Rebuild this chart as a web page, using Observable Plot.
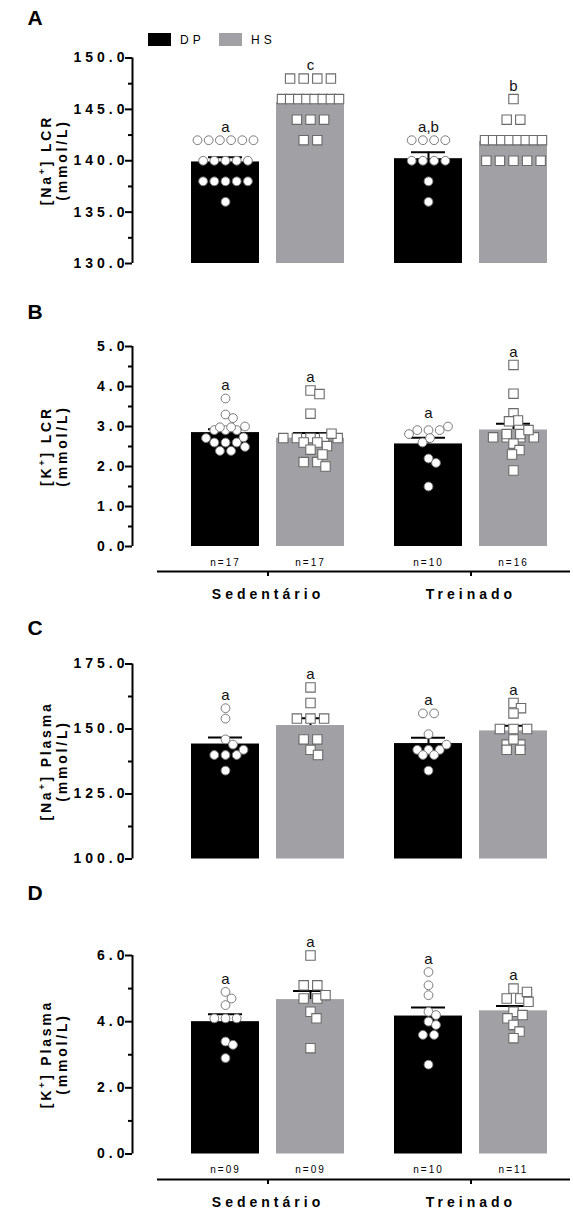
<!DOCTYPE html>
<html><head><meta charset="utf-8">
<script src="https://cdn.jsdelivr.net/npm/d3@7"></script>
<script src="https://cdn.jsdelivr.net/npm/@observablehq/plot@0.6"></script>
<style>
body{margin:0;background:#fff;font-family:"Liberation Sans",Arial,sans-serif;}
#root{position:relative;width:573px;height:1211px;overflow:hidden;}
.panel{position:absolute;left:0;}
.letter{position:absolute;font-weight:bold;font-size:21px;transform:translate(-50%,-50%);}
.ytitle{position:absolute;font-weight:bold;font-size:14px;letter-spacing:2.8px;line-height:16px;text-align:center;white-space:nowrap;transform:translate(-50%,-50%) rotate(-90deg);}
.ytitle sup{font-size:9px;line-height:0;}
.sw{position:absolute;width:23px;height:13px;}
.lg{position:absolute;font-size:12px;letter-spacing:4px;transform:translateY(-50%);}
</style></head><body><div id="root"></div>
<script>
// ---------------- data ----------------
const groups = ["Sedentário", "Treinado"];
const diets = ["DP", "HS"];

// A: [Na+] LCR (mmol/L)
const naLCR_Sed_DP = [142,142,142,142,142,142,140,140,140,140,140,138,138,138,138,138,136];
const naLCR_Sed_HS = [148,148,148,148,146,146,146,146,146,146,146,146,144,144,144,142,142];
const naLCR_Tre_DP = [142,142,142,142,140,140,140,140,138,136];
const naLCR_Tre_HS = [146,144,144,142,142,142,142,142,142,142,142,140,140,140,140,140];
const naLCR_letters = ["a", "c", "a,b", "b"];
const naLCR_ticks = [130, 135, 140, 145, 150];

// B: [K+] LCR (mmol/L)
const kLCR_Sed_DP = [3.70,3.30,3.21,3.00,2.98,2.98,2.91,2.91,2.91,2.73,2.71,2.60,2.60,2.60,2.49,2.39,2.39];
const kLCR_Sed_HS = [3.90,3.81,3.32,2.82,2.71,2.71,2.71,2.71,2.71,2.60,2.60,2.51,2.42,2.30,2.11,2.11,2.00];
const kLCR_Tre_DP = [3.00,2.91,2.91,2.91,2.81,2.71,2.60,2.20,2.09,1.50];
const kLCR_Tre_HS = [4.54,3.82,3.33,3.15,3.13,2.91,2.81,2.81,2.73,2.73,2.73,2.73,2.57,2.41,2.30,1.90];
const kLCR_letters = ["a", "a", "a", "a"];
const kLCR_n = ["n=17", "n=17", "n=10", "n=16"];
const kLCR_ticks = [0, 1, 2, 3, 4, 5];

// C: [Na+] Plasma (mmol/L)
const naPl_Sed_DP = [158,154,146,144,142,140,140,140,134];
const naPl_Sed_HS = [166,160,154,154,154,146,146,142,140];
const naPl_Tre_DP = [156,156,148,144,142,142,142,140,140,134];
const naPl_Tre_HS = [160,158,156,150,150,150,146,144,144,142,142];
const naPl_letters = ["a", "a", "a", "a"];
const naPl_ticks = [100, 125, 150, 175];

// D: [K+] Plasma (mmol/L)
const kPl_Sed_DP = [4.9,4.7,4.5,4.1,4.1,4.1,3.4,3.3,2.9];
const kPl_Sed_HS = [6.0,5.1,5.1,4.8,4.7,4.7,4.3,4.1,3.2];
const kPl_Tre_DP = [5.5,5.1,4.8,4.3,4.2,4.0,3.9,3.6,3.6,2.7];
const kPl_Tre_HS = [5.0,4.9,4.7,4.7,4.6,4.3,4.2,4.1,3.9,3.7,3.5];
const kPl_letters = ["a", "a", "a", "a"];
const kPl_n = ["n=09", "n=09", "n=10", "n=11"];
const kPl_ticks = [0, 2, 4, 6];

// ---------------- layout ----------------
const W = 573, ML = 132, MR = 3;
const FW = W - ML - MR;            // frame width in px (x scale: 1 unit = 1 px)
const groupCenter = [135.5, 338.5];
const dietShift = [-42.5, 42.5];
const barHalf = 34, capHalf = 17;
const fontFam = "Liberation Sans, Arial, sans-serif";
const colors = ["#000000", "#a0a0a5"];

// Prism-like scatter: equal values in centred rows, other points nudged sideways
function swarm(values, py, shape) {
  const size = shape === "circle" ? 9 : 9.4;
  const nominal = shape === "circle" ? 11.2 : 13.6;
  const maxSpan = 57, minDist = size * 0.9, maxOff = 28;
  const gv = d3.groups(values, v => v)
    .sort((a, b) => d3.descending(a[1].length, b[1].length) || d3.descending(a[0], b[0]));
  const placed = [], out = [];
  for (const [v, arr] of gv) {
    const k = arr.length, y = py(v);
    let xs;
    if (k > 1) {
      const sp = Math.min(nominal, maxSpan / (k - 1));
      xs = d3.range(k).map(i => (i - (k - 1) / 2) * sp);
    } else {
      let best = 0, bestD = -1;
      for (let j = 0; j < 60; j++) {
        const s = (j % 2 ? 1 : -1) * Math.ceil(j / 2) * 1.5;
        if (Math.abs(s) > maxOff) break;
        const dmin = placed.length ? d3.min(placed, p => Math.hypot(p.x - s, p.y - y)) : Infinity;
        if (dmin >= minDist) { best = s; bestD = dmin; break; }
        if (dmin > bestD) { bestD = dmin; best = s; }
      }
      xs = [best];
    }
    xs.forEach(x => { placed.push({x, y}); out.push({v, off: x}); });
  }
  return out;
}

function spaceText(svg) {
  svg.querySelectorAll("text").forEach(t => {
    const s = t.textContent;
    let ls = null;
    if (/^\d+\.\d$/.test(s)) ls = "4px";
    else if (groups.includes(s)) ls = "4px";
    else if (/^n=/.test(s)) ls = "2px";
    if (ls) { t.setAttribute("letter-spacing", ls); t.style.letterSpacing = ls; }
  });
}

function panel(cfg) {
  const {top, height, yDomain, yBottom, yTop, axisPx, series, letters, nLabels, ticks, minor} = cfg;
  const frameBottom = axisPx != null ? axisPx : yBottom;
  const ys = d3.scaleLinear(yDomain, [yBottom, yTop]);
  const rows = [], circles = [], squares = [];
  series.forEach((vals, i) => {
    const g = Math.floor(i / 2), d = i % 2;
    const c = groupCenter[g] + dietShift[d];
    const mean = d3.mean(vals);
    const sem = d3.deviation(vals) / Math.sqrt(vals.length);
    rows.push({group: groups[g], diet: diets[d], c, mean, sem, max: d3.max(vals),
               letter: letters[i], n: nLabels ? nLabels[i] : ""});
    const shape = d === 0 ? "circle" : "square";
    swarm(vals, ys, shape).forEach(p => (shape === "circle" ? circles : squares).push({x: c + p.off, y: p.v}));
  });
  const marks = [
    Plot.rectY(rows, {x1: d => d.c - barHalf, x2: d => d.c + barHalf, y1: yDomain[0], y2: "mean", fill: "diet"}),
    Plot.ruleX(rows, {x: "c", y1: "mean", y2: d => d.mean + d.sem, stroke: "#000", strokeWidth: 2}),
    Plot.ruleY(rows, {y: d => d.mean + d.sem, x1: d => d.c - capHalf, x2: d => d.c + capHalf, stroke: "#000", strokeWidth: 2}),
    Plot.dot(circles, {x: "x", y: "y", r: 4.4, symbol: "circle", fill: "#fff", stroke: "#7a7a7a", strokeWidth: 1}),
    Plot.dot(squares, {x: "x", y: "y", r: 5.3, symbol: "square", fill: "#fff", stroke: "#6a6a6a", strokeWidth: 1.1}),
    Plot.text(rows, {x: "c", y: "max", text: "letter", dy: -13, fontSize: 15, fill: "#111"}),
    // y axis
    Plot.ruleX([0], {y1: yDomain[0], y2: yDomain[1], stroke: "#000", strokeWidth: 2}),
    Plot.ruleY(ticks, {x1: -7, x2: 0, stroke: "#000", strokeWidth: 2}),
    Plot.ruleY(minor, {x1: -4, x2: 0, stroke: "#000", strokeWidth: 2}),
    Plot.text(ticks, {x: 0, y: d => d, text: d => d.toFixed(1), dx: -4, textAnchor: "end",
                      fontSize: 14, fontWeight: "bold"})
  ];
  if (axisPx != null) {
    const yAxis = ys.invert(axisPx), yTick = ys.invert(axisPx + 5);
    marks.push(
      Plot.ruleY([yAxis], {x1: 25, x2: FW, stroke: "#000", strokeWidth: 2}),
      Plot.ruleX(groupCenter, {x: d => d, y1: yAxis, y2: yTick, stroke: "#000", strokeWidth: 2}),
      Plot.text(groups, {x: (d, i) => groupCenter[i], y: yAxis, dy: 23, text: d => d,
                         fontSize: 14, fontWeight: "bold"}),
      Plot.text(rows, {x: "c", y: yDomain[0], dy: 16, text: "n", fontSize: 10})
    );
  }
  const svg = Plot.plot({
    width: W, height, marginLeft: ML, marginRight: MR, marginTop: yTop, marginBottom: height - frameBottom,
    x: {domain: [0, FW], axis: null},
    y: {domain: yDomain, range: [yBottom, yTop], axis: null},
    color: {domain: diets, range: colors},
    style: {fontFamily: fontFam, overflow: "visible", background: "transparent"},
    marks
  });
  spaceText(svg);
  svg.classList.add("panel");
  svg.style.top = top + "px";
  return svg;
}

const root = document.getElementById("root");
root.append(panel({top: 0, height: 290, yDomain: [130, 150], yBottom: 263, yTop: 57.5,
  series: [naLCR_Sed_DP, naLCR_Sed_HS, naLCR_Tre_DP, naLCR_Tre_HS], letters: naLCR_letters,
  ticks: naLCR_ticks, minor: [132.5, 137.5, 142.5, 147.5]}));
root.append(panel({top: 290, height: 320, yDomain: [0, 5], yBottom: 256, yTop: 56, axisPx: 281,
  series: [kLCR_Sed_DP, kLCR_Sed_HS, kLCR_Tre_DP, kLCR_Tre_HS], letters: kLCR_letters, nLabels: kLCR_n,
  ticks: kLCR_ticks, minor: [0.5, 1.5, 2.5, 3.5, 4.5]}));
root.append(panel({top: 610, height: 290, yDomain: [100, 175], yBottom: 248.5, yTop: 53.5,
  series: [naPl_Sed_DP, naPl_Sed_HS, naPl_Tre_DP, naPl_Tre_HS], letters: naPl_letters,
  ticks: naPl_ticks, minor: [112.5, 137.5, 162.5]}));
root.append(panel({top: 900, height: 311, yDomain: [0, 6], yBottom: 253.5, yTop: 55, axisPx: 279,
  series: [kPl_Sed_DP, kPl_Sed_HS, kPl_Tre_DP, kPl_Tre_HS], letters: kPl_letters, nLabels: kPl_n,
  ticks: kPl_ticks, minor: [1, 3, 5]}));

// panel letters and y titles (HTML around the SVGs)
const letterPos = [["A", 18], ["B", 312], ["C", 628], ["D", 893]];
letterPos.forEach(([t, y]) => {
  const el = document.createElement("div"); el.className = "letter"; el.textContent = t;
  el.style.left = "35px"; el.style.top = y + "px"; root.append(el);
});
const titles = [
  ["[Na<sup>+</sup>] LCR", 160],
  ["[K<sup>+</sup>] LCR", 446],
  ["[Na<sup>+</sup>] Plasma", 761],
  ["[K<sup>+</sup>] Plasma", 1054]
];
titles.forEach(([t, y]) => {
  const el = document.createElement("div"); el.className = "ytitle";
  el.innerHTML = t + "<br>(mmol/L)";
  el.style.left = "54px"; el.style.top = y + "px"; root.append(el);
});
// legend
[["DP", colors[0], 148, 180], ["HS", colors[1], 219, 251]].forEach(([t, c, sx, tx]) => {
  const s = document.createElement("div"); s.className = "sw";
  s.style.left = sx + "px"; s.style.top = "33px"; s.style.background = c; root.append(s);
  const l = document.createElement("div"); l.className = "lg"; l.textContent = t;
  l.style.left = tx + "px"; l.style.top = "40px"; root.append(l);
});
</script></body></html>
